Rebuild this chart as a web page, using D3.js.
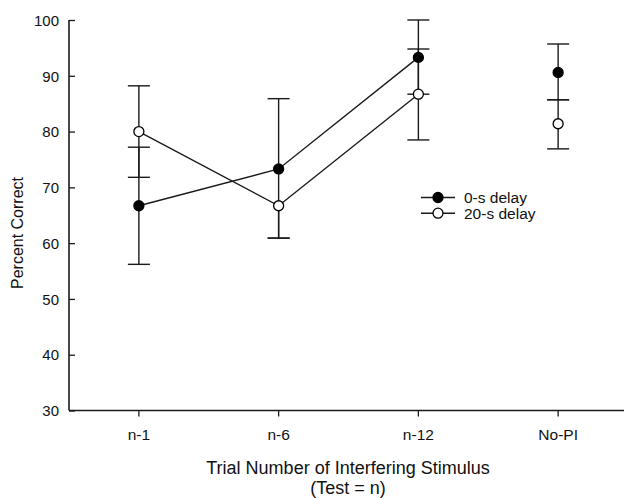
<!DOCTYPE html>
<html><head><meta charset="utf-8">
<script src="https://cdn.jsdelivr.net/npm/d3@7"></script>
<style>body{margin:0;background:#fff}svg{display:block}text{font-family:"Liberation Sans",Arial,sans-serif;fill:#111}</style>
</head><body>
<svg id="c" width="624" height="498"></svg>
<script>
const categories = ["n-1","n-6","n-12","No-PI"];
const yTicks = [30,40,50,60,70,80,90,100];
const seriesNames = ["0-s delay","20-s delay"];
const delay0 = [66.7, 73.3, 93.3, 90.6];
const delay0Upper = [77.2, 85.9, 100.0, 95.7];
const delay0Lower = [56.2, 60.9, 86.7, 85.7];
const delay20 = [80.0, 66.7, 86.7, 81.4];
const delay20Upper = [88.2, 66.7, 94.8, 85.7];
const delay20Lower = [71.8, 60.9, 78.5, 76.9];
const connected = [true, true, true, false];

const svg = d3.select("#c");
const x = d3.scaleBand().domain(categories).range([69, 628]);
const cx = c => x(c) + x.bandwidth()/2;
const y = d3.scaleLinear().domain([30,100]).range([410.5, 20]);
const ink = "#1a1a1a";
const ff = "Liberation Sans, Arial, sans-serif";

// axes
const ya = svg.append("g").attr("transform","translate(69,0)")
  .call(d3.axisLeft(y).tickValues(yTicks).tickSize(-6).tickPadding(10));
ya.select(".domain").attr("stroke",ink).attr("stroke-width",1.6).attr("d","M0,"+y(100)+"V"+y(30));
ya.selectAll(".tick line").attr("stroke",ink).attr("stroke-width",1.3);
ya.selectAll(".tick text").attr("font-size",15).style("font-family",ff).attr("fill","#111").attr("dy","0.35em");

const xa = svg.append("g").attr("transform","translate(0,410.5)")
  .call(d3.axisBottom(x).tickSize(6).tickPadding(12));
xa.select(".domain").attr("stroke",ink).attr("stroke-width",1.6).attr("d","M69,0H628");
xa.selectAll(".tick line").attr("stroke",ink).attr("stroke-width",1.3);
xa.selectAll(".tick text").attr("font-size",15.5).style("font-family",ff).attr("fill","#111");

svg.append("text").attr("transform","translate(23,233) rotate(-90)").attr("text-anchor","middle")
  .attr("font-size",16).text("Percent Correct");
svg.append("text").attr("x",348).attr("y",474).attr("text-anchor","middle").attr("font-size",18)
  .text("Trial Number of Interfering Stimulus");
svg.append("text").attr("x",348).attr("y",494).attr("text-anchor","middle").attr("font-size",18)
  .text("(Test = n)");

const series = [
  {name: seriesNames[0], v: delay0, up: delay0Upper, lo: delay0Lower, fill: "#000"},
  {name: seriesNames[1], v: delay20, up: delay20Upper, lo: delay20Lower, fill: "#fff"}
];

// error bars
const capW = 11;
series.forEach(s => {
  const g = svg.append("g").attr("stroke",ink).attr("stroke-width",1.4);
  categories.forEach((c,i) => {
    g.append("line").attr("x1",cx(c)).attr("x2",cx(c)).attr("y1",y(s.up[i])).attr("y2",y(s.lo[i]));
    if (s.up[i] !== s.v[i]) g.append("line").attr("x1",cx(c)-capW).attr("x2",cx(c)+capW).attr("y1",y(s.up[i])).attr("y2",y(s.up[i]));
    if (s.lo[i] !== s.v[i]) g.append("line").attr("x1",cx(c)-capW).attr("x2",cx(c)+capW).attr("y1",y(s.lo[i])).attr("y2",y(s.lo[i]));
  });
});

// lines
const line = d3.line().x(d => cx(d.c)).y(d => y(d.v));
series.forEach(s => {
  const pts = categories.map((c,i) => ({c, v: s.v[i]})).filter((d,i) => connected[i]);
  svg.append("path").attr("d", line(pts)).attr("fill","none").attr("stroke",ink).attr("stroke-width",1.4);
});
// points
series.forEach(s => {
  svg.append("g").selectAll("circle").data(categories).join("circle")
    .attr("cx", c => cx(c)).attr("cy", (c,i) => y(s.v[i])).attr("r",5)
    .attr("fill", s.fill).attr("stroke","#000").attr("stroke-width",1.3);
});

// legend
const lg = svg.append("g");
series.forEach((s,i) => {
  const ly = 197.5 + i*15.7;
  lg.append("line").attr("x1",421).attr("x2",455).attr("y1",ly).attr("y2",ly).attr("stroke",ink).attr("stroke-width",1.4);
  lg.append("circle").attr("cx",438).attr("cy",ly).attr("r",5).attr("fill",s.fill).attr("stroke","#000").attr("stroke-width",1.3);
  lg.append("text").attr("x",464).attr("y",ly).attr("dy","0.35em").attr("font-size",15.5).text(s.name);
});
</script>
</body></html>
